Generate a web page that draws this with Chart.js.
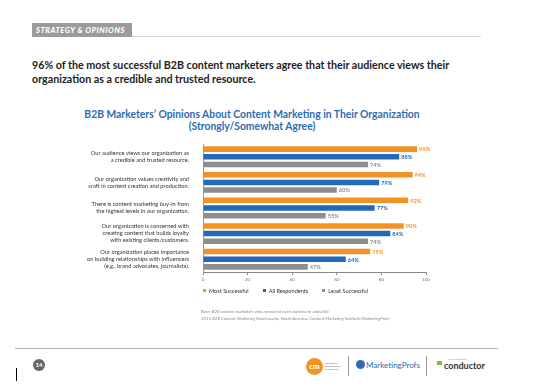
<!DOCTYPE html>
<html>
<head>
<meta charset="utf-8">
<script src="https://cdn.jsdelivr.net/npm/chart.js@4.4.1/dist/chart.umd.min.js"></script>
<style>
  body { margin: 0; width: 542px; height: 392px; background: #fff; position: relative; overflow: hidden; font-family: Lato, "Open Sans", sans-serif; }
  .abs { position: absolute; }
  #tag { left: 32px; top: 23px; width: 100px; height: 14px; background: #9b9b9b; color: #fff; font: italic 900 7.6px Lato, sans-serif; line-height: 14px; padding-left: 4px; box-sizing: border-box; letter-spacing: 0.55px; white-space: nowrap; }
  #tagline { left: 132px; top: 36px; width: 349px; height: 1px; background: #d6d6d6; }
  #headline { left: 32px; top: 58px; width: 480px; font: bold 10.7px Lato, sans-serif; line-height: 14px; color: #222; }
  #title { left: 52px; top: 109px; width: 400px; text-align: center; font: bold 10.35px Lato, sans-serif; line-height: 11.5px; color: #2d6cb5; }
  #wrap { left: 0; top: 140px; width: 542px; height: 148px; }
  #legend { left: 203px; top: 287px; font: 5.6px Lato, sans-serif; color: #333; display: flex; gap: 14px; }
  #legend span i { display: inline-block; width: 3px; height: 3px; margin-right: 3px; vertical-align: 1px; }
  #notes { left: 201px; top: 309px; font: italic 4.4px Lato, sans-serif; line-height: 6.5px; color: #888; }
  #footline { left: 15px; top: 348px; width: 483px; height: 1px; background: #b5b5b5; }
  #page { left: 33px; top: 359px; width: 12px; height: 12px; border-radius: 6px; background: #666; color: #fff; font: bold 6px Lato, sans-serif; text-align: center; line-height: 12px; }
  #cursor { left: 16px; top: 368px; width: 1px; height: 13px; background: #000; }
  #cmi { left: 306px; top: 358px; width: 17px; height: 17px; border-radius: 9px; background: #f39325; color: #fff; font: bold 8px Lato, sans-serif; text-align: center; line-height: 16px; }
  #cmitext { left: 325px; top: 362px; font: bold 2.6px Lato, sans-serif; color: #777; line-height: 3.2px; }
  .sep { top: 356px; width: 1px; height: 20px; background: #999; }
  #mp { left: 356px; top: 360px; font: 8px Lato, sans-serif; color: #2d6cb5; }
  #mp b { display: inline-block; width: 9px; height: 9px; border-radius: 5px; background: #2d6cb5; vertical-align: -1px; margin-right: 1px; }
  #spons { left: 448px; top: 357px; font: 2.6px Lato, sans-serif; color: #999; }
  #cond { left: 437px; top: 360px; font: bold 9px Lato, sans-serif; color: #333; }
  #cond i { display: inline-block; width: 5px; height: 4px; background: #7dbb42; margin-right: 2px; vertical-align: 4px; }
</style>
</head>
<body>
<div id="tag" class="abs">STRATEGY &amp; OPINIONS</div>
<div id="tagline" class="abs"></div>
<div id="headline" class="abs">96% of the most successful B2B content marketers agree that their audience views their<br>organization as a credible and trusted resource.</div>
<div id="title" class="abs">B2B Marketers’ Opinions About Content Marketing in Their Organization<br>(Strongly/Somewhat Agree)</div>
<div id="wrap" class="abs"><canvas id="chart" width="542" height="148"></canvas></div>
<div id="legend" class="abs"></div>
<div id="notes" class="abs">Base: B2B content marketers who answered each statement; aided list.<br>2015 B2B Content Marketing Benchmarks, North America: Content Marketing Institute/MarketingProfs</div>
<div id="footline" class="abs"></div>
<div id="page" class="abs">14</div>
<div id="cursor" class="abs"></div>
<div id="cmi" class="abs">cm</div>
<div id="cmitext" class="abs">CONTENT<br>MARKETING<br>INSTITUTE</div>
<div class="abs sep" style="left:348px"></div>
<div id="mp" class="abs"><b></b>MarketingProfs</div>
<div class="abs sep" style="left:426px"></div>
<div id="spons" class="abs">SPONSORED BY</div>
<div id="cond" class="abs"><i></i>conductor</div>
<script>
const categories = [
  ["Our audience views our organization as", "a credible and trusted resource."],
  ["Our organization values creativity and", "craft in content creation and production."],
  ["There is content marketing buy-in from", "the highest levels in our organization."],
  ["Our organization is concerned with", "creating content that builds loyalty", "with existing clients/customers."],
  ["Our organization places importance", "on building relationships with influencers", "(e.g., brand advocates, journalists)."]
];
const seriesNames = ["Most Successful", "All Respondents", "Least Successful"];
const mostSuccessful = [96, 94, 92, 90, 75];
const allRespondents = [88, 79, 77, 84, 64];
const leastSuccessful = [74, 60, 55, 74, 47];
const xTicks = [0, 20, 40, 60, 80, 100];
const colors = ["#f39325", "#2369b8", "#8e8e8e"];

// value labels at the end of each bar
const valueLabels = {
  id: "valueLabels",
  afterDatasetsDraw(chart) {
    const ctx = chart.ctx;
    ctx.save();
    ctx.font = "bold 5.6px Lato, sans-serif";
    ctx.textBaseline = "middle";
    chart.data.datasets.forEach((ds, i) => {
      chart.getDatasetMeta(i).data.forEach((bar, j) => {
        ctx.fillStyle = ds.backgroundColor;
        ctx.fillText(ds.data[j] + "%", bar.x + 2, bar.y + 0.5);
      });
    });
    ctx.restore();
  }
};

const datasets = [mostSuccessful, allRespondents, leastSuccessful].map((d, i) => ({
  label: seriesNames[i],
  data: d,
  backgroundColor: colors[i],
  categoryPercentage: 0.9,
  barPercentage: 0.72
}));

new Chart(document.getElementById("chart"), {
  type: "bar",
  data: { labels: categories, datasets: datasets },
  options: {
    indexAxis: "y",
    responsive: false,
    maintainAspectRatio: false,
    animation: false,
    devicePixelRatio: 1,
    layout: { padding: { top: 4, right: 116, left: 0, bottom: 0 } },
    plugins: { legend: { display: false }, tooltip: { enabled: false } },
    scales: {
      x: {
        min: 0, max: 100,
        afterBuildTicks: (s) => { s.ticks = xTicks.map(v => ({ value: v })); },
        afterFit: (s) => { s.height = 16; s.paddingLeft = 0; s.paddingRight = 0; },
        grid: { drawOnChartArea: false, tickLength: 3, color: "#888" },
        border: { color: "#888" },
        ticks: { font: { size: 4.6, family: "Lato" }, color: "#777", padding: 2 }
      },
      y: {
        afterFit: (s) => { s.width = 203; s.paddingTop = 0; s.paddingBottom = 0; },
        grid: { display: false },
        border: { color: "#999" },
        ticks: { autoSkip: false, font: { size: 5.7, family: "Lato", lineHeight: 1.22 }, color: "#333", padding: 6 }
      }
    }
  },
  plugins: [valueLabels]
});

const legend = document.getElementById("legend");
seriesNames.forEach((n, i) => {
  const s = document.createElement("span");
  s.innerHTML = '<i style="background:' + colors[i] + '"></i>' + n;
  legend.appendChild(s);
});
</script>
</body>
</html>
